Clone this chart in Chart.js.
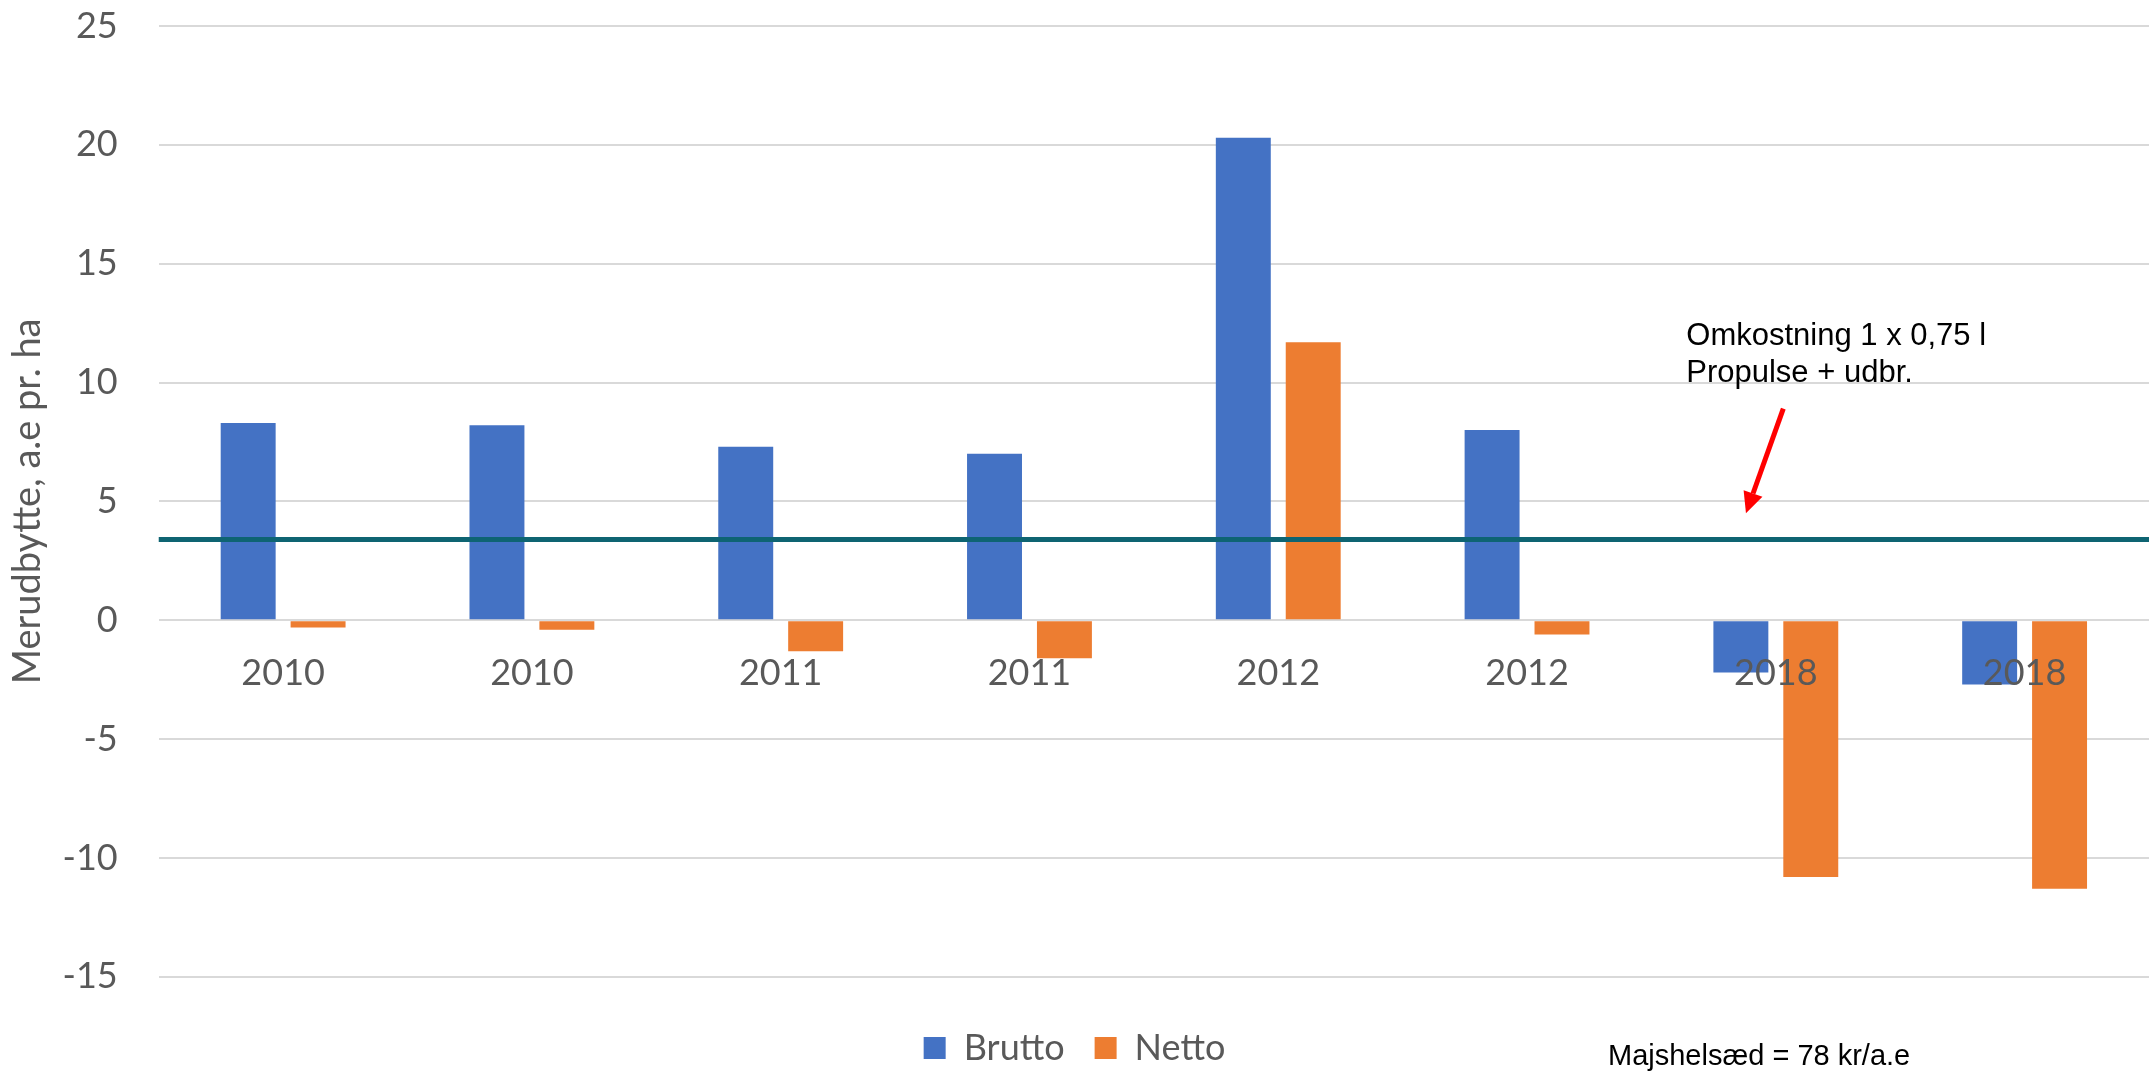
<!DOCTYPE html>
<html lang="da">
<head>
    <meta charset="UTF-8">
    <title>Merudbytte</title>
    <script src="https://cdn.jsdelivr.net/npm/chart.js"></script>
    <style>
        body { margin: 0; background: #fff; }
        #wrap { width: 2149px; height: 1072px; }
    </style>
</head>
<body>
<div id="wrap"><canvas id="chart" width="2149" height="1072"></canvas></div>

<script>
    // data
    const categories = ['2010', '2010', '2011', '2011', '2012', '2012', '2018', '2018'];
    const brutto = [8.3, 8.2, 7.3, 7.0, 20.3, 8.0, -2.2, -2.7];
    const netto = [-0.3, -0.4, -1.3, -1.6, 11.7, -0.6, -10.8, -11.3];
    const costLevel = 3.4;           // omkostning, a.e pr. ha
    const yTicks = [-15, -10, -5, 0, 5, 10, 15, 20, 25];

    const noteLines = ['Omkostning 1 x 0,75 l', 'Propulse + udbr.'];
    const noteAt = { x: 5.64, y: 11.6 };       // category index / value of first baseline
    const arrowFrom = { x: 6.03, y: 8.9 };
    const arrowTo = { x: 5.88, y: 4.5 };
    const priceNote = 'Majshelsæd = 78 kr/a.e';

    const grey = '#595959';

    // teal cost line across the plot
    const costLinePlugin = {
        id: 'costLine',
        afterDatasetsDraw(chart) {
            const { ctx, chartArea, scales } = chart;
            const y = scales.y.getPixelForValue(costLevel);
            ctx.save();
            ctx.strokeStyle = '#0E6472';
            ctx.lineWidth = 5;
            ctx.beginPath();
            ctx.moveTo(chartArea.left, y);
            ctx.lineTo(chartArea.right, y);
            ctx.stroke();
            ctx.restore();
        }
    };

    // text notes and red arrow
    const notesPlugin = {
        id: 'notes',
        afterDraw(chart) {
            const { ctx, scales } = chart;
            const x = scales.x, y = scales.y;
            ctx.save();
            ctx.fillStyle = '#000';
            ctx.font = '31px "Liberation Sans", Arial, sans-serif';
            ctx.textAlign = 'left';
            ctx.textBaseline = 'alphabetic';
            const nx = x.getPixelForValue(noteAt.x);
            const ny = y.getPixelForValue(noteAt.y);
            noteLines.forEach((t, i) => ctx.fillText(t, nx, ny + i * 37));

            const x1 = x.getPixelForValue(arrowFrom.x), y1 = y.getPixelForValue(arrowFrom.y);
            const x2 = x.getPixelForValue(arrowTo.x), y2 = y.getPixelForValue(arrowTo.y);
            const ang = Math.atan2(y2 - y1, x2 - x1);
            const headLen = 21, headW = 10;
            const bx = x2 - headLen * Math.cos(ang), by = y2 - headLen * Math.sin(ang);
            ctx.strokeStyle = '#FF0000';
            ctx.fillStyle = '#FF0000';
            ctx.lineWidth = 5;
            ctx.beginPath();
            ctx.moveTo(x1, y1);
            ctx.lineTo(bx, by);
            ctx.stroke();
            ctx.beginPath();
            ctx.moveTo(x2, y2);
            ctx.lineTo(bx + headW * Math.sin(ang), by - headW * Math.cos(ang));
            ctx.lineTo(bx - headW * Math.sin(ang), by + headW * Math.cos(ang));
            ctx.closePath();
            ctx.fill();

            ctx.fillStyle = '#000';
            ctx.font = '29px "Liberation Sans", Arial, sans-serif';
            ctx.fillText(priceNote, chart.width - 541, chart.height - 7);
            ctx.restore();
        }
    };

    new Chart(document.getElementById('chart'), {
        type: 'bar',
        data: {
            labels: categories,
            datasets: [
                { label: 'Brutto', data: brutto, backgroundColor: '#4472C4' },
                { label: 'Netto', data: netto, backgroundColor: '#ED7D31' }
            ]
        },
        options: {
            responsive: false,
            animation: false,
            devicePixelRatio: 1,
            datasets: {
                bar: { categoryPercentage: 0.562, barPercentage: 0.786 }
            },
            layout: { padding: { top: 26, right: 0, bottom: -4, left: 0 } },
            plugins: {
                tooltip: { enabled: false },
                legend: {
                    position: 'bottom',
                    // empty title only used as spacer above the legend items
                    title: { display: true, text: '', font: { size: 1 }, padding: { top: 0, bottom: 22 } },
                    labels: {
                        boxWidth: 22,
                        boxHeight: 22,
                        padding: 30,
                        color: grey,
                        font: { family: 'Lato', size: 36 }
                    }
                }
            },
            scales: {
                x: {
                    position: { y: 0 },
                    grid: { display: false, drawTicks: false },
                    border: { display: false },
                    ticks: {
                        z: 1,   // year labels sit on top of the bars
                        color: grey,
                        padding: 32,
                        maxRotation: 0,
                        font: { family: 'Lato', size: 36 }
                    }
                },
                y: {
                    min: -15,
                    max: 25,
                    afterBuildTicks(scale) {
                        scale.ticks = yTicks.map(v => ({ value: v }));
                    },
                    grid: {
                        color: '#D9D9D9',
                        lineWidth: 2,
                        drawTicks: true,
                        tickLength: 41,
                        tickColor: 'rgba(0,0,0,0)'
                    },
                    border: { display: false },
                    ticks: {
                        color: grey,
                        padding: 0,
                        font: { family: 'Lato', size: 36 }
                    },
                    title: {
                        display: true,
                        text: 'Merudbytte, a.e pr. ha',
                        color: grey,
                        font: { family: 'Lato', size: 38 },
                        padding: { top: 5, bottom: 12 }
                    }
                }
            }
        },
        plugins: [costLinePlugin, notesPlugin]
    });
</script>
</body>
</html>
